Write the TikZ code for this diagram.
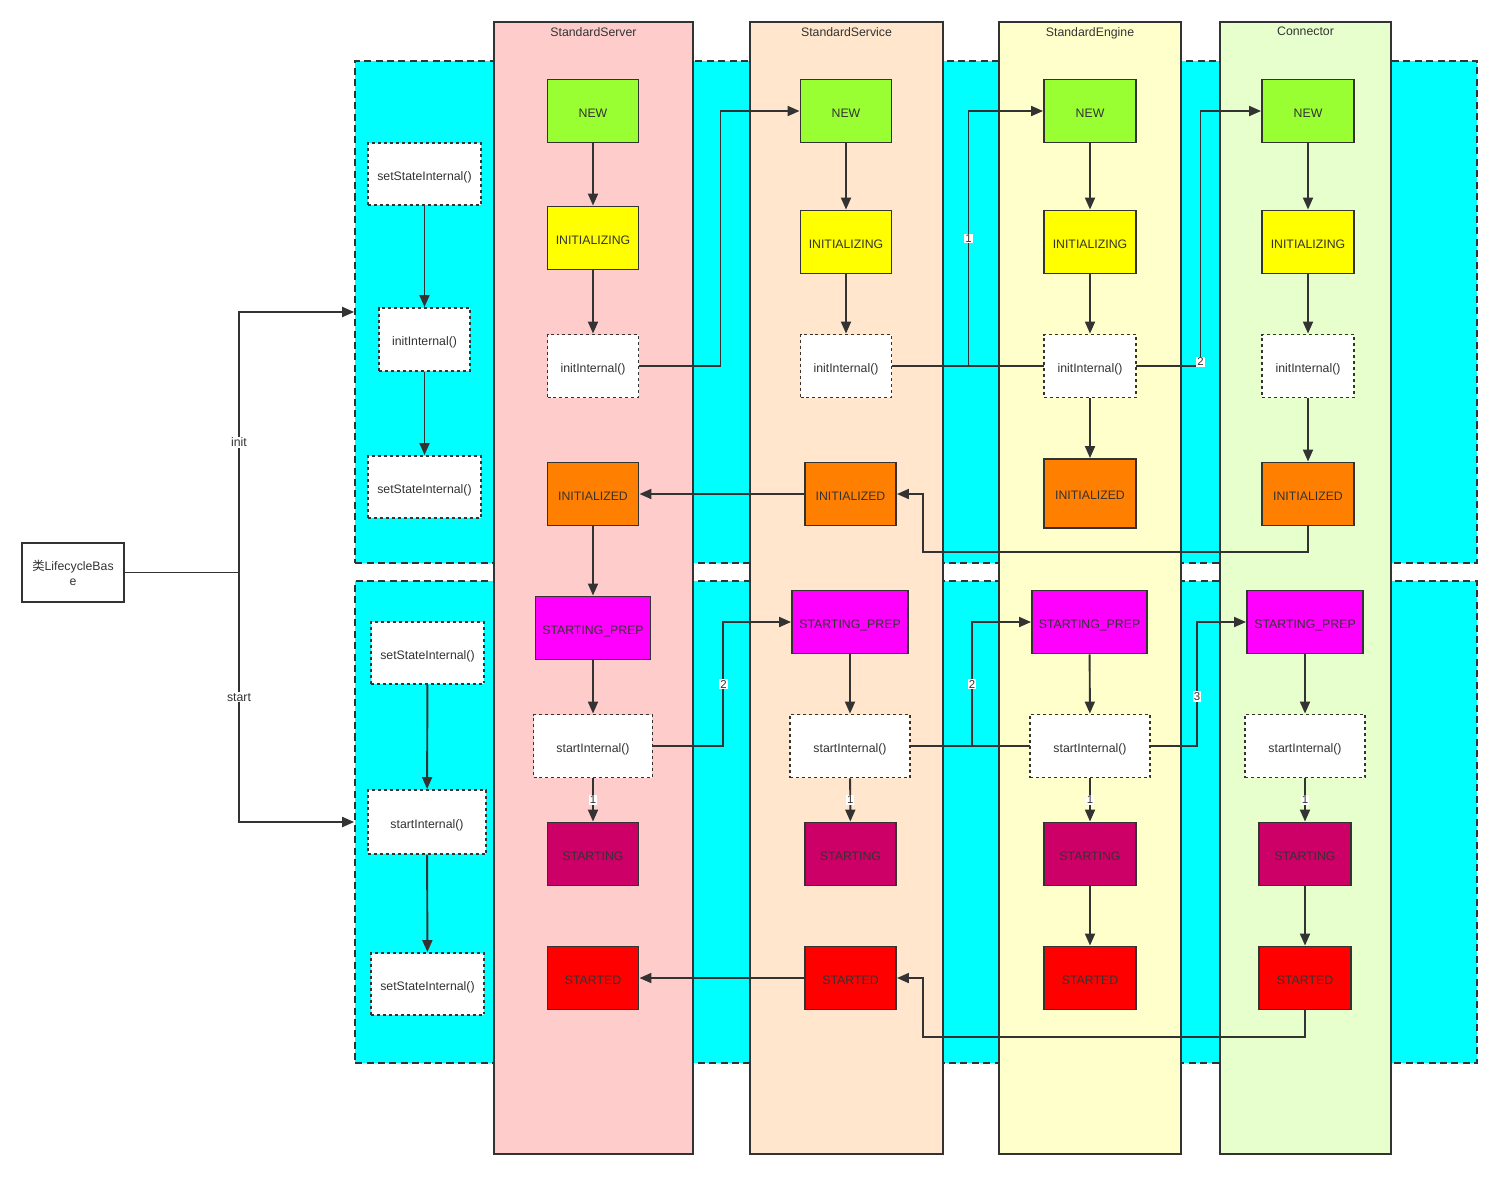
\documentclass[tikz,border=0pt]{standalone}
\usepackage{fontspec}
\setmainfont{Liberation Sans}
\newfontfamily\cjk{Noto Sans CJK SC}
\usetikzlibrary{positioning,arrows.meta,calc}
\definecolor{LineGray}{RGB}{51,51,51}
\definecolor{PhaseCyan}{RGB}{0,255,255}
\definecolor{ServerPink}{RGB}{255,204,204}
\definecolor{ServicePeach}{RGB}{255,230,204}
\definecolor{EngineCream}{RGB}{255,255,204}
\definecolor{ConnMint}{RGB}{230,255,204}
\definecolor{NewGreen}{RGB}{153,255,51}
\definecolor{InitYellow}{RGB}{255,255,0}
\definecolor{DoneOrange}{RGB}{255,128,0}
\definecolor{PrepMagenta}{RGB}{255,0,255}
\definecolor{RunBerry}{RGB}{204,0,102}
\definecolor{StartRed}{RGB}{255,0,0}
\pgfdeclarelayer{bg}
\pgfdeclarelayer{wires}
\pgfsetlayers{bg,wires,main}
\tikzset{
  flow/.style={-{Triangle[length=2.4mm,width=2mm]},line width=1.1pt,draw=LineGray},
  wire/.style={line width=1.1pt,draw=LineGray},
  phase/.style={draw=LineGray,fill=PhaseCyan,dash pattern=on 4pt off 2.5pt,
    line width=1.1pt,minimum width=22.44cm},
  lane/.style={draw=LineGray,line width=1.1pt,minimum height=22.64cm},
  lanetitle/.style={font=\fontsize{7}{8}\selectfont,text=LineGray,inner sep=1pt},
  state/.style={draw=LineGray,line width=1.1pt,minimum width=1.82cm,minimum height=1.26cm,
    font=\fontsize{7}{8}\selectfont,text=LineGray,inner sep=1pt,text height=0.72em,text depth=0pt},
  call/.style={draw=LineGray,fill=white,line width=1.1pt,dash pattern=on 1.7pt off 1.7pt,
    minimum height=1.26cm,font=\fontsize{7}{8}\selectfont,text=LineGray,inner sep=1pt,
    text height=0.72em,text depth=0pt},
  order/.style={fill=white,font=\fontsize{6.5}{7}\selectfont,text=LineGray,inner sep=0.6pt}
}

\begin{document}
\begin{tikzpicture}[x=0.02cm,y=-0.02cm]
  \useasboundingbox (0,0) rectangle (1500,1177);
  \begin{pgfonlayer}{bg}
    \node[phase,minimum height=10.04cm] (initphase) at (916,312) {};
    \node[phase,minimum height=9.64cm] (startphase) at (916,822) {};
    \node[lane,fill=ServerPink,minimum width=3.98cm] (server) at (593.5,588) {};
    \node[lane,fill=ServicePeach,minimum width=3.86cm] (service) at (846.5,588) {};
    \node[lane,fill=EngineCream,minimum width=3.64cm] (engine) at (1090,588) {};
    \node[lane,fill=ConnMint,minimum width=3.42cm] (connector) at (1305.5,588) {};
  \end{pgfonlayer}
  \node[lanetitle,below=0.08cm of server.north] (servertitle) {StandardServer};
  \node[lanetitle,below=0.08cm of service.north] (servicetitle) {StandardService};
  \node[lanetitle,below=0.08cm of engine.north] (enginetitle) {StandardEngine};
  \node[lanetitle,below=0.08cm of connector.north] (connectortitle) {Connector};

  % LifecycleBase and its template methods
  \node[draw=LineGray,line width=1.1pt,fill=white,minimum width=2.04cm,minimum height=1.18cm,align=center,
    font=\fontsize{7}{8.5}\selectfont,text=LineGray,inner sep=1pt] (lifecycle) at (73,572.5) {{\cjk 类}LifecycleBas\\e};
  \node[call,minimum width=2.26cm,minimum height=1.24cm] (lsetA) at (424.5,174) {setStateInternal()};
  \node[call,minimum width=1.82cm] (linit) at (424.5,339.5) {initInternal()};
  \node[call,minimum width=2.26cm,minimum height=1.24cm] (lsetB) at (424.5,487) {setStateInternal()};
  \node[call,minimum width=2.26cm,minimum height=1.24cm] (lsetC) at (427.5,653) {setStateInternal()};
  \node[call,minimum width=2.36cm,minimum height=1.28cm] (lstart) at (427,822) {startInternal()};
  \node[call,minimum width=2.26cm,minimum height=1.24cm] (lsetD) at (427.5,984) {setStateInternal()};

  % StandardServer
  \node[state,fill=NewGreen] (srvnew) at (593,111) {NEW};
  \node[state,fill=InitYellow] (srvinit) at (593,238) {INITIALIZING};
  \node[call,minimum width=1.82cm] (srvinitint) at (593,366) {initInternal()};
  \node[state,fill=DoneOrange] (srvinitd) at (593,494) {INITIALIZED};
  \node[state,fill=PrepMagenta,minimum width=2.3cm] (srvprep) at (593,628) {STARTING\_PREP};
  \node[call,minimum width=2.38cm] (srvstartint) at (593,746) {startInternal()};
  \node[state,fill=RunBerry] (srvstarting) at (593,854) {STARTING};
  \node[state,fill=StartRed] (srvstarted) at (593,978) {STARTED};

  % StandardService
  \node[state,fill=NewGreen] (svcnew) at (846,111) {NEW};
  \node[state,fill=InitYellow] (svcinit) at (846,242) {INITIALIZING};
  \node[call,minimum width=1.82cm] (svcinitint) at (846,366) {initInternal()};
  \node[state,fill=DoneOrange] (svcinitd) at (850.5,494) {INITIALIZED};
  \node[state,fill=PrepMagenta,minimum width=2.32cm] (svcprep) at (850,622) {STARTING\_PREP};
  \node[call,minimum width=2.4cm] (svcstartint) at (850,746) {startInternal()};
  \node[state,fill=RunBerry] (svcstarting) at (850.5,854) {STARTING};
  \node[state,fill=StartRed] (svcstarted) at (850.5,978) {STARTED};

  % StandardEngine
  \node[state,fill=NewGreen,minimum width=1.84cm] (engnew) at (1090,111) {NEW};
  \node[state,fill=InitYellow,minimum width=1.84cm] (enginit) at (1090,242) {INITIALIZING};
  \node[call,minimum width=1.84cm] (enginitint) at (1090,366) {initInternal()};
  \node[state,fill=DoneOrange,minimum width=1.84cm,minimum height=1.38cm] (enginitd) at (1090,493.5) {INITIALIZED};
  \node[state,fill=PrepMagenta,minimum width=2.3cm] (engprep) at (1089.5,622) {STARTING\_PREP};
  \node[call,minimum width=2.4cm] (engstartint) at (1090,746) {startInternal()};
  \node[state,fill=RunBerry,minimum width=1.84cm] (engstarting) at (1090,854) {STARTING};
  \node[state,fill=StartRed,minimum width=1.84cm] (engstarted) at (1090,978) {STARTED};

  % Connector
  \node[state,fill=NewGreen,minimum width=1.84cm] (connew) at (1308,111) {NEW};
  \node[state,fill=InitYellow,minimum width=1.84cm] (coninit) at (1308,242) {INITIALIZING};
  \node[call,minimum width=1.84cm] (coninitint) at (1308,366) {initInternal()};
  \node[state,fill=DoneOrange,minimum width=1.84cm] (coninitd) at (1308,494) {INITIALIZED};
  \node[state,fill=PrepMagenta,minimum width=2.32cm] (conprep) at (1305,622) {STARTING\_PREP};
  \node[call,minimum width=2.4cm] (constartint) at (1305,746) {startInternal()};
  \node[state,fill=RunBerry,minimum width=1.84cm] (constarting) at (1305,854) {STARTING};
  \node[state,fill=StartRed,minimum width=1.84cm] (constarted) at (1305,978) {STARTED};

  \begin{pgfonlayer}{wires}
    % init / start entry
    \coordinate (fork) at (239,572.5);
    \draw[wire] (lifecycle.east) -- (fork);
    \draw[flow] (fork) |- (initphase.west) node[order,pos=0.25,font=\fontsize{7}{8}\selectfont] (initlbl) {init};
    \draw[flow] (fork) |- (startphase.west) node[order,pos=0.25,font=\fontsize{7}{8}\selectfont] (startlbl) {start};
    \draw[flow] (lsetA) -- (linit);
    \draw[flow] (linit) -- (lsetB);
    \draw[flow] (lsetC) -- (lstart);
    \draw[flow] (lstart) -- (lsetD);

    % inside each lane
    \draw[flow] (srvnew) -- (srvinit);
    \draw[flow] (srvinit) -- (srvinitint);
    \draw[flow] (srvinitd) -- (srvprep);
    \draw[flow] (srvprep) -- (srvstartint);
    \draw[flow] (srvstartint) -- node[order] (srvone) {1} (srvstarting);
    \draw[flow] (svcnew) -- (svcinit);
    \draw[flow] (svcinit) -- (svcinitint);
    \draw[flow] (svcprep) -- (svcstartint);
    \draw[flow] (svcstartint) -- node[order] (svcone) {1} (svcstarting);
    \draw[flow] (engnew) -- (enginit);
    \draw[flow] (enginit) -- (enginitint);
    \draw[flow] (enginitint) -- (enginitd);
    \draw[flow] (engprep) -- (engstartint);
    \draw[flow] (engstartint) -- node[order] (engone) {1} (engstarting);
    \draw[flow] (engstarting) -- (engstarted);
    \draw[flow] (connew) -- (coninit);
    \draw[flow] (coninit) -- (coninitint);
    \draw[flow] (coninitint) -- (coninitd);
    \draw[flow] (conprep) -- (constartint);
    \draw[flow] (constartint) -- node[order] (conone) {1} (constarting);
    \draw[flow] (constarting) -- (constarted);

    % init calls down the chain
    \draw[flow] (srvinitint.east) -- ++(81,0) |- (svcnew.west);
    \draw[flow] (svcinitint.east) -- ++(76,0) |- (engnew.west) node[order,pos=0.25] (engcall) {1};
    \draw[flow] (svcinitint.east) -- node[order,pos=1,yshift=0.08cm] (concall) {2} ++(308,0) |- (connew.west);
    \draw[flow] (svcinitd.west) -- (srvinitd.east);
    \draw[flow] (coninitd.south) |- ($(svcinitd.east)+(26,58)$) |- (svcinitd.east);

    % start calls down the chain
    \draw[flow] (srvstartint.east) -- ++(70,0) |- (svcprep.west) node[order,pos=0.25] (svccall) {2};
    \draw[flow] (svcstartint.east) -- ++(61,0) |- (engprep.west) node[order,pos=0.25] (engstartcall) {2};
    \draw[flow] (svcstartint.east) -- ++(286,0) |- (conprep.west) node[order,pos=0.2] (constartcall) {3};
    \draw[flow] (svcstarted.west) -- (srvstarted.east);
    \draw[flow] (constarted.south) |- ($(svcstarted.east)+(26,59)$) |- (svcstarted.east);
  \end{pgfonlayer}
\end{tikzpicture}
\end{document}
